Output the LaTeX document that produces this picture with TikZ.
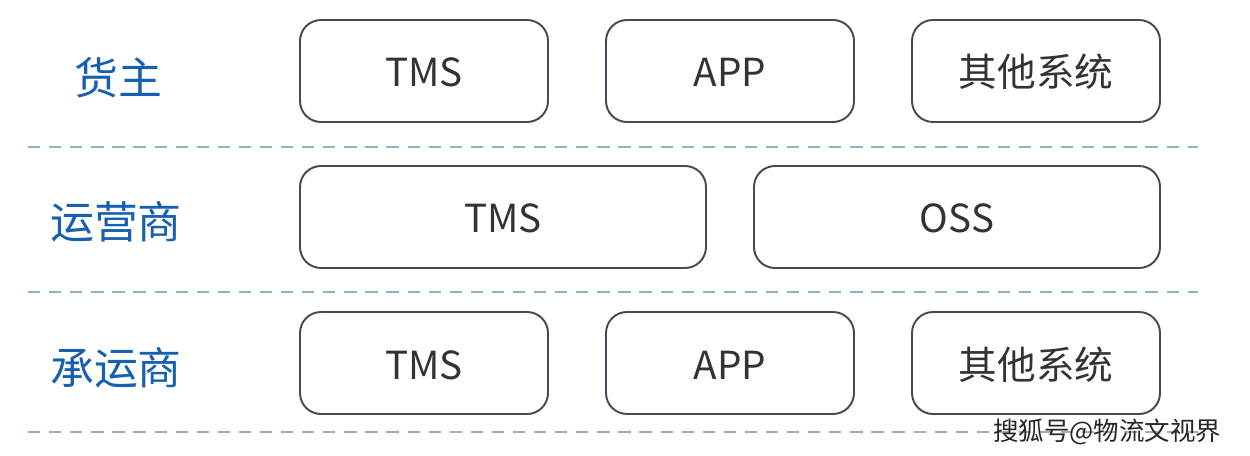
\documentclass[tikz,border=0pt]{standalone}
\usepackage{fontspec}
\setmainfont{Noto Sans CJK SC}
\newfontfamily\cjk{Noto Sans CJK SC}
\begin{document}
\begin{tikzpicture}[x=0.02cm,y=-0.02cm,
  sysbox/.style={draw=boxc, line width=1.1pt, rounded corners=0.42cm, fill=white, text=txtc, font=\cjk\fontsize{22}{25}\selectfont, inner sep=0pt, text height=0.64cm, text depth=0pt},
  rolelabel/.style={text=rolec, font=\cjk\fontsize{25}{28}\selectfont, inner sep=0pt},
  sepline/.style={draw=sepc, line width=1pt, dash pattern=on 7pt off 5pt}]
\definecolor{boxc}{HTML}{4A4752}
\definecolor{txtc}{HTML}{333333}
\definecolor{rolec}{HTML}{1560B0}
\definecolor{sepc}{HTML}{8DB3C4}
\useasboundingbox[fill=white] (0,0) rectangle (1250,456);
% role labels
\node[rolelabel] (r1) at (118,78) {货主};
\node[rolelabel] (r2) at (116,222) {运营商};
\node[rolelabel] (r3) at (116,368) {承运商};
% row 1
\node[sysbox, minimum width=248*0.02cm, minimum height=102*0.02cm] (a1) at (424,71) {TMS};
\node[sysbox, minimum width=248*0.02cm, minimum height=102*0.02cm] (a2) at (730,71) {APP};
\node[sysbox, minimum width=248*0.02cm, minimum height=102*0.02cm] (a3) at (1036,71) {其他系统};
% row 2
\node[sysbox, minimum width=406*0.02cm, minimum height=102*0.02cm] (b1) at (503,217) {TMS};
\node[sysbox, minimum width=406*0.02cm, minimum height=102*0.02cm] (b2) at (957,217) {OSS};
% row 3
\node[sysbox, minimum width=248*0.02cm, minimum height=102*0.02cm] (c1) at (424,363) {TMS};
\node[sysbox, minimum width=248*0.02cm, minimum height=102*0.02cm] (c2) at (730,363) {APP};
\node[sysbox, minimum width=248*0.02cm, minimum height=102*0.02cm] (c3) at (1036,363) {其他系统};
% separators
\coordinate (s1l) at (28,147); \coordinate (s1r) at (1198,147);
\coordinate (s2l) at (28,292); \coordinate (s2r) at (1198,292);
\coordinate (s3l) at (28,432); \coordinate (s3r) at (1198,432);
\draw[sepline] (s1l) -- (s1r);
\draw[sepline] (s2l) -- (s2r);
\draw[sepline] (s3l) -- (s3r);
% watermark
\node[font=\cjk\fontsize{14.5}{16}\selectfont, text=black!85, inner sep=1pt] (wm) at (1107,432) {搜狐号@物流文视界};
\end{tikzpicture}
\end{document}
